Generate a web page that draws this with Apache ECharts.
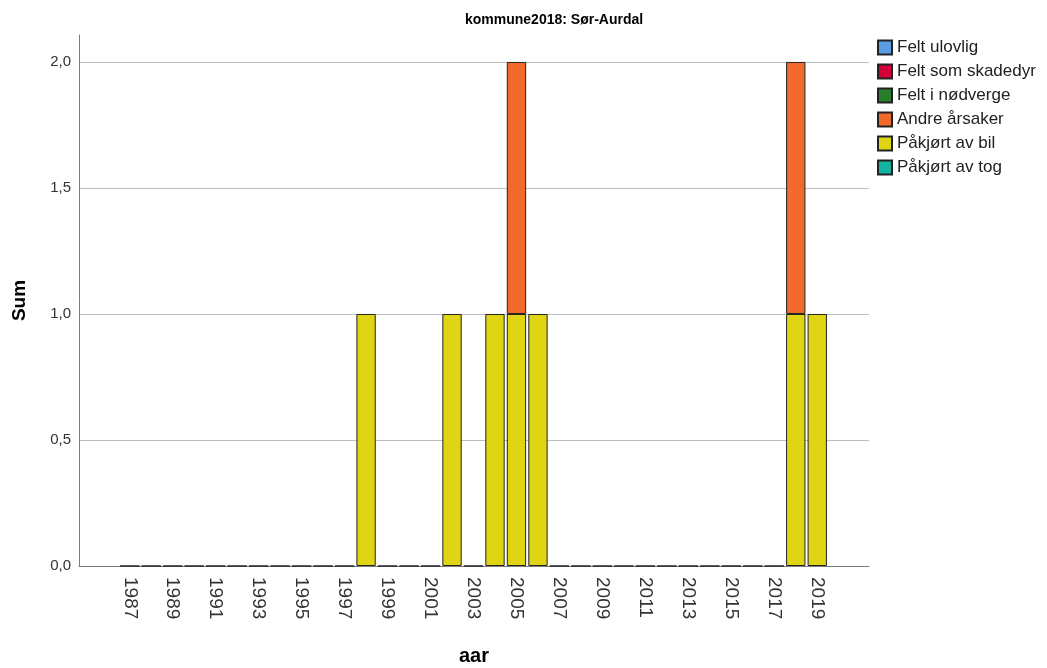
<!DOCTYPE html>
<html>
<head>
<meta charset="utf-8">
<script src="https://cdn.jsdelivr.net/npm/echarts@6/dist/echarts.min.js"></script>
<style>
  html, body { margin: 0; padding: 0; background: #ffffff; }
  #chart { width: 1047px; height: 668px; }
</style>
</head>
<body>
<div id="chart"></div>
<script>
// Years on the category axis
const years = [
  '1987','1988','1989','1990','1991','1992','1993','1994','1995','1996','1997',
  '1998','1999','2000','2001','2002','2003','2004','2005','2006','2007','2008',
  '2009','2010','2011','2012','2013','2014','2015','2016','2017','2018','2019'
];

// Counts per cause and year
const paakjortAvBil = [
  0,0,0,0,0,0,0,0,0,0,0,
  1,0,0,0,1,0,1,1,1,0,0,
  0,0,0,0,0,0,0,0,0,1,1
];
const andreAarsaker = [
  null,null,null,null,null,null,null,null,null,null,null,
  null,null,null,null,null,null,null,1,null,null,null,
  null,null,null,null,null,null,null,null,null,1,null
];
const feltUlovlig = [];
const feltSomSkadedyr = [];
const feltINodverge = [];
const paakjortAvTog = [];

// Legend order and colours
const legendNames = ['Felt ulovlig','Felt som skadedyr','Felt i nødverge','Andre årsaker','Påkjørt av bil','Påkjørt av tog'];
const colors = {
  'Felt ulovlig': '#5a9be3',
  'Felt som skadedyr': '#d4003a',
  'Felt i nødverge': '#2a7d2a',
  'Andre årsaker': '#f26a2b',
  'Påkjørt av bil': '#e0d512',
  'Påkjørt av tog': '#14b2a0'
};

const yTicks = [0, 0.5, 1, 1.5, 2];
const yMax = 2.107;

const font = 'Liberation Sans, Arial, sans-serif';

function barSeries(name, data) {
  return {
    name: name,
    type: 'bar',
    stack: 'sum',
    xAxisIndex: 1,
    yAxisIndex: 1,
    barCategoryGap: '10%',
    data: data,
    itemStyle: { color: colors[name], borderColor: '#222222', borderWidth: 1 },
    emphasis: { disabled: true }
  };
}

const chart = echarts.init(document.getElementById('chart'), null, { renderer: 'canvas' });

chart.setOption({
  animation: false,
  backgroundColor: '#ffffff',
  title: {
    text: 'kommune2018: Sør-Aurdal',
    left: 460,
    top: 8,
    textStyle: { fontFamily: font, fontSize: 14, fontWeight: 'bold', color: '#000000' }
  },
  legend: {
    orient: 'vertical',
    left: 872,
    top: 34,
    itemWidth: 14,
    itemHeight: 14,
    itemGap: 7,
    icon: 'rect',
    data: legendNames,
    selectedMode: false,
    textStyle: { fontFamily: font, fontSize: 17, color: '#222222', padding: [0, 0, 0, 0] }
  },
  grid: [
    // frame: axis lines, gridlines, axis names
    { left: 79, right: 178, top: 35, bottom: 102, containLabel: false, outerBoundsMode: 'none' },
    // bars
    { left: 119, right: 219, top: 35, bottom: 102, containLabel: false, outerBoundsMode: 'none' }
  ],
  xAxis: [
    {
      gridIndex: 0,
      type: 'value',
      min: 0,
      max: 1,
      name: 'aar',
      nameLocation: 'middle',
      nameGap: 80,
      nameTextStyle: { fontFamily: font, fontSize: 20, fontWeight: 'bold', color: '#000000' },
      axisLine: { show: true, lineStyle: { color: '#7a7a7a', width: 1 } },
      axisTick: { show: false },
      axisLabel: { show: false },
      splitLine: { show: false }
    },
    {
      gridIndex: 1,
      type: 'category',
      data: years,
      axisLine: { show: false },
      axisTick: { show: false },
      axisLabel: {
        interval: 1,
        rotate: -90,
        margin: 11,
        fontFamily: font,
        fontSize: 19,
        color: '#333333'
      },
      splitLine: { show: false }
    }
  ],
  yAxis: [
    {
      gridIndex: 0,
      type: 'value',
      min: 0,
      max: yMax,
      interval: 0.5,
      name: 'Sum',
      nameLocation: 'middle',
      nameGap: 50,
      nameTextStyle: { fontFamily: font, fontSize: 19, fontWeight: 'bold', color: '#000000' },
      axisLine: { show: true, lineStyle: { color: '#7a7a7a', width: 1 } },
      axisTick: { show: false },
      axisLabel: {
        margin: 8,
        showMaxLabel: false,
        fontFamily: font,
        fontSize: 15,
        color: '#333333',
        formatter: function (v) {
          return yTicks.indexOf(v) >= 0 ? v.toFixed(1).replace('.', ',') : '';
        }
      },
      splitLine: { show: true, showMinLine: false, showMaxLine: false, lineStyle: { color: '#bdbdbd', width: 1 } }
    },
    {
      gridIndex: 1,
      type: 'value',
      min: 0,
      max: yMax,
      show: false,
      splitLine: { show: false }
    }
  ],
  series: [
    barSeries('Påkjørt av bil', paakjortAvBil),
    barSeries('Andre årsaker', andreAarsaker),
    barSeries('Felt ulovlig', feltUlovlig),
    barSeries('Felt som skadedyr', feltSomSkadedyr),
    barSeries('Felt i nødverge', feltINodverge),
    barSeries('Påkjørt av tog', paakjortAvTog)
  ]
});
</script>
</body>
</html>
